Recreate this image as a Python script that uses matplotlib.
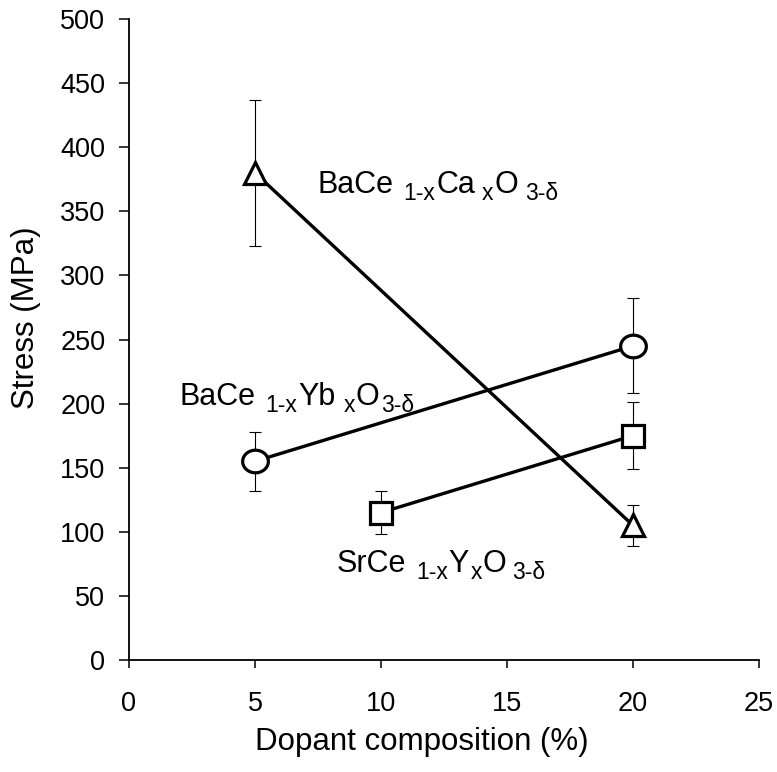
import numpy as np
import matplotlib
matplotlib.use("Agg")
import matplotlib.pyplot as plt
from matplotlib.path import Path
from matplotlib.transforms import offset_copy

plt.rcParams["font.family"] = ["Liberation Sans", "DejaVu Sans"]

# Fracture stress vs. dopant content for three perovskite systems
ca_x = [5, 20]
ca_stress = [380, 105]
ca_err = [57, 16]

yb_x = [5, 20]
yb_stress = [155, 245]
yb_err = [23, 37]

y_x = [10, 20]
y_stress = [115, 175]
y_err = [17, 26]

x_ticks = [0, 5, 10, 15, 20, 25]
y_ticks = [0, 50, 100, 150, 200, 250, 300, 350, 400, 450, 500]

# formula pieces: (text, is_subscript, gap before in points)
ca_label = [("BaCe", False, 0), ("1-x", True, 7), ("Ca", False, 0.5),
            ("x", True, 5), ("O", False, 0.5), ("3-δ", True, 5)]
yb_label = [("BaCe", False, 0), ("1-x", True, 7), ("Yb", False, 0.5),
            ("x", True, 6), ("O", False, 0.5), ("3-δ", True, 1)]
sr_label = [("SrCe", False, 0), ("1-x", True, 7), ("Y", False, 0.5),
            ("x", True, 1), ("O", False, 0.5), ("3-δ", True, 4)]

W, H = 777, 772
fig = plt.figure(figsize=(W / 100, H / 100), dpi=100)
ax = fig.add_axes([129 / W, 1 - 660 / H, (759 - 129) / W, (660 - 19) / H])
renderer = fig.canvas.get_renderer()


def formula(x, y, parts, size=22, sub_size=16.5, drop=5):
    dx = 0.0
    for s, is_sub, gap in parts:
        dx += gap
        tr = offset_copy(ax.transData, fig=fig, x=dx,
                         y=-drop if is_sub else 0, units="points")
        t = ax.text(x, y, s, transform=tr, fontsize=sub_size if is_sub else size,
                    va="baseline", ha="left")
        dx += t.get_window_extent(renderer).width * 72 / fig.dpi


# slightly flattened circle marker
t = np.linspace(0, 2 * np.pi, 73)
ellipse = Path(np.column_stack([np.cos(t), 0.88 * np.sin(t)]), closed=True)

series = [
    (ca_x, ca_stress, ca_err, "^", 15.5),
    (yb_x, yb_stress, yb_err, ellipse, 18.5),
    (y_x, y_stress, y_err, "s", 16),
]
for xs, ys, es, mk, ms in series:
    ax.errorbar(xs, ys, yerr=es, fmt="none", ecolor="black", elinewidth=0.8,
                capsize=4, capthick=0.8, zorder=2)
    ax.plot(xs, ys, color="black", lw=2.4, marker=mk, ms=ms, mfc="white",
            mec="black", mew=2.3, zorder=3, solid_capstyle="butt")

ax.set_xlim(0, 25)
ax.set_ylim(0, 500)
ax.set_xticks(x_ticks)
ax.set_yticks(y_ticks)
ax.spines["top"].set_visible(False)
ax.spines["right"].set_visible(False)
for s in ("left", "bottom"):
    ax.spines[s].set_linewidth(1.3)
ax.tick_params(axis="x", direction="out", length=6, width=1.1, labelsize=19.5, pad=16.5)
ax.tick_params(axis="y", direction="out", length=7, width=1.1, labelsize=19.5, pad=10)

formula(7.5, 364, ca_label)
formula(2.02, 199, yb_label)
formula(8.25, 68.5, sr_label)

fig.text(421.5 / W, 1 - 750 / H, "Dopant composition (%)", fontsize=22.5,
         ha="center", va="baseline")
fig.text(26 / W, 1 - 317.5 / H, "Stress (MPa)", fontsize=22.5, rotation=90,
         ha="center", va="center")

fig.savefig("out.png", dpi=100)
